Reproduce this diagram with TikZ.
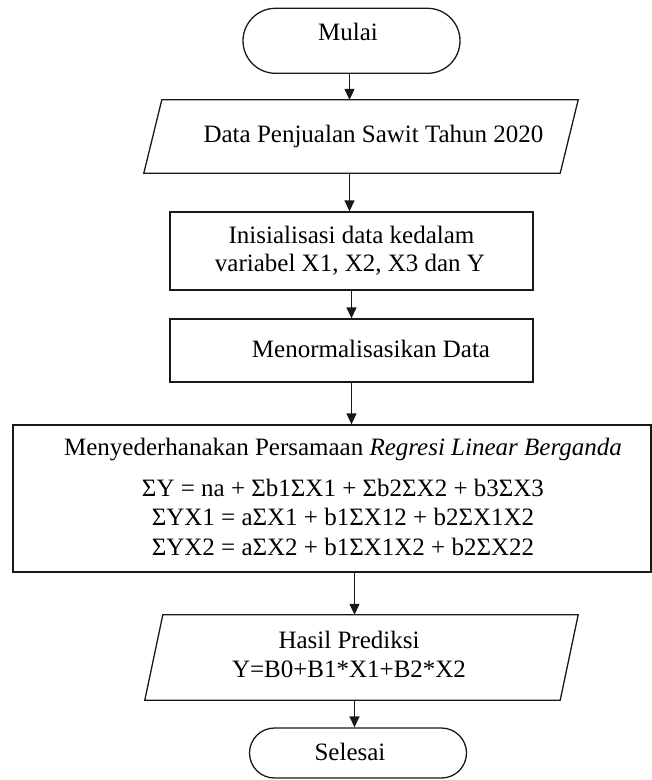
\documentclass[tikz,border=0pt]{standalone}
\usepackage{fontspec}
\setmainfont{Liberation Serif}
\usetikzlibrary{arrows.meta,shapes.misc}
\begin{document}
\begin{tikzpicture}[x=1pt,y=-1pt,
  line/.style={draw=black!90, line width=1.3pt},
  term/.style={line, rounded rectangle, inner sep=0pt},
  box/.style={line, rectangle, inner sep=0pt},
  io/.style={rectangle, inner sep=0pt},
  txt/.style={anchor=base, inner sep=0pt, font=\fontsize{25}{28}\selectfont, text=black},
  arr/.style={line, -{Triangle[length=11pt,width=10pt]}},
]
\useasboundingbox (0,0) rectangle (652,780);

% Mulai
\node[term, minimum width=217pt, minimum height=65pt] (mulai) at (351.5,40.8) {};
\node[txt] (tmulai) at (348,40.7) {Mulai};

% Data
\node[io, minimum width=434pt, minimum height=73pt] (data) at (361,136.5) {};
\draw[line] ([xshift=18pt]data.north west) -- (data.north east) -- ([xshift=-18pt]data.south east) -- (data.south west) -- cycle;
\node[txt] (tdata) at (373.5,142) {Data Penjualan Sawit Tahun 2020};

% Inisialisasi
\node[box, minimum width=363pt, minimum height=78pt] (init) at (351.5,251) {};
\node[txt] (tinit1) at (351.5,243) {Inisialisasi data kedalam};
\node[txt] (tinit2) at (350,271) {variabel X1, X2, X3 dan Y};

% Normalisasi
\node[box, minimum width=363pt, minimum height=63pt] (norm) at (351.5,350.5) {};
\node[txt] (tnorm) at (371,357) {Menormalisasikan Data};

% Persamaan
\node[box, minimum width=638pt, minimum height=147pt] (big) at (332,498.5) {};
\node[txt] (tbig0) at (343,455) {Menyederhanakan Persamaan \textit{Regresi Linear Berganda}};
\node[txt] (tbig1) at (343,496) {ΣY = na + Σb1ΣX1 + Σb2ΣX2 + b3ΣX3};
\node[txt] (tbig2) at (343,525.5) {ΣYX1 = aΣX1 + b1ΣX12 + b2ΣX1X2};
\node[txt] (tbig3) at (343,555) {ΣYX2 = aΣX2 + b1ΣX1X2 + b2ΣX22};

% Hasil
\node[io, minimum width=433pt, minimum height=85pt] (hasil) at (361.5,657.5) {};
\draw[line] ([xshift=18pt]hasil.north west) -- (hasil.north east) -- ([xshift=-18pt]hasil.south east) -- (hasil.south west) -- cycle;
\node[txt] (thasil1) at (349,648) {Hasil Prediksi};
\node[txt] (thasil2) at (349,677) {Y=B0+B1*X1+B2*X2};

% Selesai
\node[term, minimum width=217pt, minimum height=50pt] (selesai) at (358,753) {};
\node[txt] (tselesai) at (350,760) {Selesai};

% Connectors
\draw[arr] ([xshift=-2pt]mulai.south) -- ([xshift=-2pt]mulai.south |- data.north);
\draw[arr] ([xshift=-2pt]init.north |- data.south) -- ([xshift=-2pt]init.north);
\draw[arr] (init.south) -- (norm.north);
\draw[arr] (norm.south) -- (norm.south |- big.north);
\draw[arr] ([xshift=3pt]norm.south |- big.south) -- ([xshift=3pt]norm.south |- hasil.north);
\draw[arr] ([xshift=3pt]norm.south |- hasil.south) -- ([xshift=3pt]norm.south |- selesai.north);
\end{tikzpicture}
\end{document}
